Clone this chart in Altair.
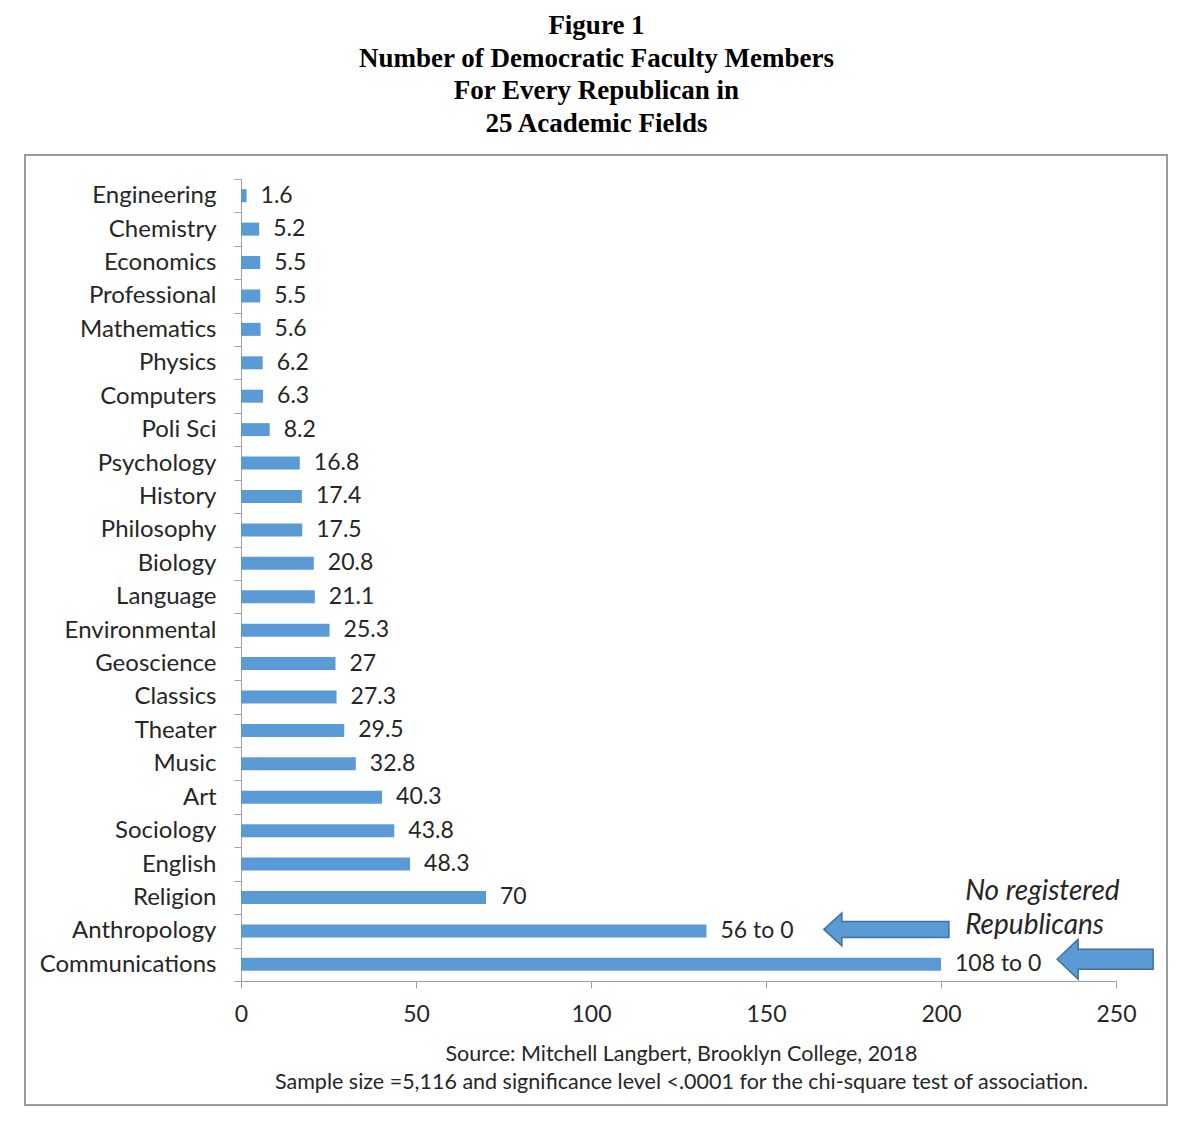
import altair as alt
import pandas as pd

fields = ["Engineering", "Chemistry", "Economics", "Professional", "Mathematics",
          "Physics", "Computers", "Poli Sci", "Psychology", "History", "Philosophy",
          "Biology", "Language", "Environmental", "Geoscience", "Classics", "Theater",
          "Music", "Art", "Sociology", "English", "Religion", "Anthropology",
          "Communications"]
ratios = [1.6, 5.2, 5.5, 5.5, 5.6, 6.2, 6.3, 8.2, 16.8, 17.4, 17.5, 20.8, 21.1,
          25.3, 27, 27.3, 29.5, 32.8, 40.3, 43.8, 48.3, 70, 133, 200]
labels = ["1.6", "5.2", "5.5", "5.5", "5.6", "6.2", "6.3", "8.2", "16.8", "17.4",
          "17.5", "20.8", "21.1", "25.3", "27", "27.3", "29.5", "32.8", "40.3",
          "43.8", "48.3", "70", "56 to 0", "108 to 0"]
x_ticks = [0, 50, 100, 150, 200, 250]

title_lines = ["Figure 1", "Number of Democratic Faculty Members",
               "For Every Republican in", "25 Academic Fields"]
footer_lines = ["Source: Mitchell  Langbert, Brooklyn College, 2018",
                "Sample size =5,116 and significance level <.0001 for the chi-square test of association."]

note_lines = ["No registered", "Republicans"]
note_rows = ["Religion", "Anthropology"]
note_x = [206.9, 206.9]

arrow_rows = ["Anthropology", "Communications"]
arrow_x = [184.4, 246.9]

df = pd.DataFrame({"field": fields, "ratio": ratios, "label": labels})
notes = pd.DataFrame({"field": note_rows, "x": note_x, "text": note_lines})
arrow1 = pd.DataFrame({"field": [arrow_rows[0]], "x": [arrow_x[0]]})
arrow2 = pd.DataFrame({"field": [arrow_rows[1]], "x": [arrow_x[1]]})

FONT = "Lato"
TXT = "#262626"
BLUE = "#5B9BD5"
AXC = "#A0A0A0"

yenc = alt.Y("field:N", sort=fields, title=None,
             scale=alt.Scale(paddingInner=0, paddingOuter=0),
             axis=alt.Axis(tickBand="extent", tickSize=7, labelPadding=18,
                           labelFontSize=24, labelFont=FONT, labelColor=TXT,
                           domainColor=AXC, tickColor=AXC, labelLimit=400))
xscale = alt.Scale(domain=[0, 250], nice=False)
xenc = alt.X("ratio:Q", scale=xscale,
             title=footer_lines,
             axis=alt.Axis(values=x_ticks, grid=False, tickSize=7, labelPadding=15,
                           labelFlush=False,
                           labelFontSize=23, labelFont=FONT, labelColor=TXT,
                           domainColor=AXC, tickColor=AXC,
                           titleFont=FONT, titleFontSize=21.5, titleFontWeight="normal",
                           titleColor=TXT, titlePadding=17, titleLineHeight=28,
                           titleX=440))

bars = alt.Chart(df).mark_bar(color=BLUE, size=13).encode(x=xenc, y=yenc)
vals = alt.Chart(df).mark_text(align="left", baseline="middle", dx=14, font=FONT,
                               fontSize=23, color=TXT).encode(
    x=alt.X("ratio:Q", scale=xscale), y=alt.Y("field:N", sort=fields), text="label:N")

note = alt.Chart(notes).mark_text(align="left", baseline="middle", dy=-5, font=FONT,
                                  fontSize=28, fontStyle="italic", color=TXT).encode(
    x=alt.X("x:Q", scale=xscale), y=alt.Y("field:N", sort=fields), text="text:N")

# arrow outlines (unit box, pointing left); slight upward shift built in
path1 = ("M-1,-0.024 L-0.712,-0.288 L-0.712,-0.152 L1,-0.152 L1,0.104 "
         "L-0.712,0.104 L-0.712,0.240 Z")
path2 = ("M-1,-0.104 L-0.5625,-0.521 L-0.5625,-0.312 L1,-0.312 L1,0.104 "
         "L-0.5625,0.104 L-0.5625,0.313 Z")

a1 = alt.Chart(arrow1).mark_point(shape=path1, size=15625, filled=True, fill=BLUE,
                                  stroke="#41719C", strokeWidth=1.5, opacity=1).encode(
    x=alt.X("x:Q", scale=xscale), y=alt.Y("field:N", sort=fields))
a2 = alt.Chart(arrow2).mark_point(shape=path2, size=9216, filled=True, fill=BLUE,
                                  stroke="#41719C", strokeWidth=1.5, opacity=1).encode(
    x=alt.X("x:Q", scale=xscale), y=alt.Y("field:N", sort=fields))

frame = alt.Chart(df.head(1)).mark_rect(fill=None, stroke="#9A9A9A", strokeWidth=2).encode(
    x=alt.value(-216), x2=alt.value(926), y=alt.value(-24), y2=alt.value(926))

chart = alt.layer(frame, bars, vals, note, a1, a2).properties(
    width=875, height=802,
    background="white",
    autosize=alt.AutoSizeParams(type="none"),
    padding={"left": 233, "top": 171, "right": 70, "bottom": 150},
    title=alt.TitleParams(text=title_lines, font="Liberation Serif", fontSize=27,
                          fontWeight="bold", color="#000000", lineHeight=32.7,
                          anchor="middle", dx=-82, offset=16),
).configure_view(strokeWidth=0)

chart.save("out.html", embed_options={"renderer": "svg", "actions": False})
